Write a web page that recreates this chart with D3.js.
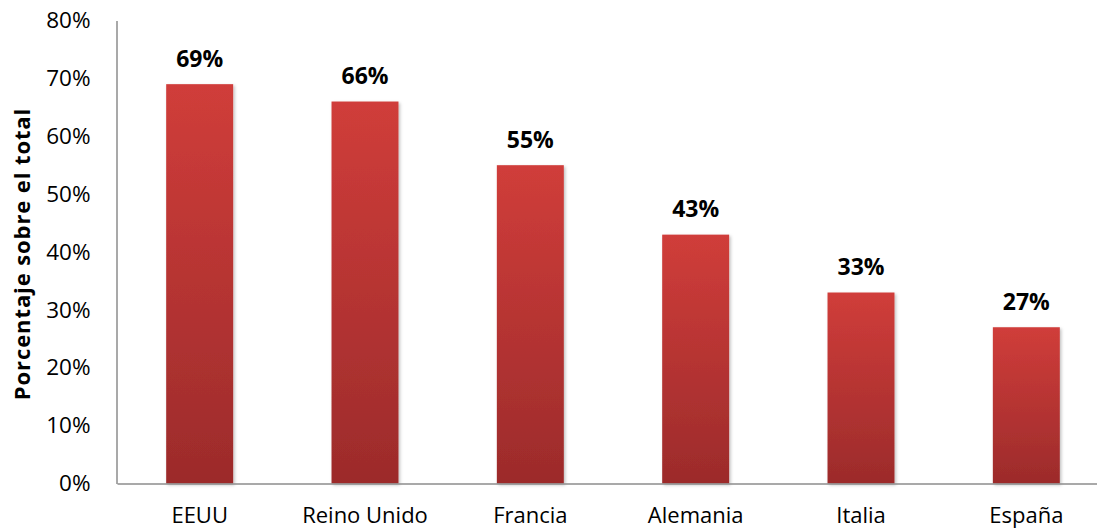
<!DOCTYPE html>
<html>
<head>
<meta charset="utf-8">
<script src="https://cdn.jsdelivr.net/npm/d3@7"></script>
<style>
  html, body { margin: 0; padding: 0; background: #fff; }
  svg { display: block; font-family: "Open Sans", Lato, sans-serif; }
</style>
</head>
<body>
<svg id="chart" width="1097" height="530"></svg>
<script>
// Share of total by country
const countries = ["EEUU", "Reino Unido", "Francia", "Alemania", "Italia", "España"];
const shares = [69, 66, 55, 43, 33, 27];
const yTicks = [0, 10, 20, 30, 40, 50, 60, 70, 80];
const yTitle = "Porcentaje sobre el total";

const FONT = "'Open Sans', Lato, sans-serif";
const svg = d3.select("#chart");

const x = d3.scaleBand()
  .domain(countries)
  .range([117, 1109])
  .paddingInner(0.595)
  .paddingOuter(0.2975);

const y = d3.scaleLinear()
  .domain([0, 80])
  .range([483.5, 20.5]);

// Vertical gradient for the bars
const defs = svg.append("defs");
const grad = defs.append("linearGradient")
  .attr("id", "barFill")
  .attr("x1", 0).attr("y1", 0).attr("x2", 0).attr("y2", 1);
grad.append("stop").attr("offset", "0%").attr("stop-color", "#d03d3a");
grad.append("stop").attr("offset", "100%").attr("stop-color", "#9c2b2b");

const shadow = defs.append("filter")
  .attr("id", "barShadow")
  .attr("x", "-20%").attr("y", "-20%").attr("width", "140%").attr("height", "140%");
shadow.append("feDropShadow")
  .attr("dx", 1.5).attr("dy", 1.5).attr("stdDeviation", 1.5)
  .attr("flood-color", "#000").attr("flood-opacity", 0.25);

// Bars
svg.append("g")
  .selectAll("rect")
  .data(countries)
  .join("rect")
  .attr("x", d => x(d))
  .attr("y", (d, i) => y(shares[i]))
  .attr("width", x.bandwidth())
  .attr("height", (d, i) => y(0) - y(shares[i]))
  .attr("fill", "url(#barFill)")
  .attr("filter", "url(#barShadow)");

// Value labels
svg.append("g")
  .selectAll("text")
  .data(countries)
  .join("text")
  .attr("x", d => x(d) + x.bandwidth() / 2)
  .attr("y", (d, i) => y(shares[i]) - 17.5)
  .attr("text-anchor", "middle")
  .attr("font-size", 23)
  .attr("font-weight", "bold")
  .attr("fill", "#000")
  .text((d, i) => shares[i] + "%");

// Y axis
const yAxis = d3.axisLeft(y)
  .tickValues(yTicks)
  .tickSize(0)
  .tickPadding(26)
  .tickFormat(d => d + "%");

const gy = svg.append("g")
  .attr("transform", "translate(116.5,0)")
  .call(yAxis);
gy.select(".domain").attr("stroke", "#8c8c8c").attr("stroke-width", 1.5);
gy.selectAll("text")
  .attr("font-size", 22.5)
  .attr("fill", "#000")
  .attr("font-family", FONT);

// X axis
const xAxis = d3.axisBottom(x).tickSize(0).tickPadding(0);
const gx = svg.append("g")
  .attr("transform", `translate(0,${y(0)})`)
  .call(xAxis);
gx.select(".domain").attr("stroke", "#8c8c8c").attr("stroke-width", 1.5);
gx.selectAll("text")
  .attr("y", 39.5)
  .attr("dy", null)
  .attr("font-size", 22)
  .attr("fill", "#000")
  .attr("font-family", FONT);

// Y axis title
svg.append("text")
  .attr("transform", `translate(30,${(y(0) + y(80)) / 2 + 2}) rotate(-90)`)
  .attr("text-anchor", "middle")
  .attr("font-size", 22)
  .attr("letter-spacing", 0.9)
  .attr("font-weight", "bold")
  .attr("fill", "#000")
  .text(yTitle);
</script>
</body>
</html>
